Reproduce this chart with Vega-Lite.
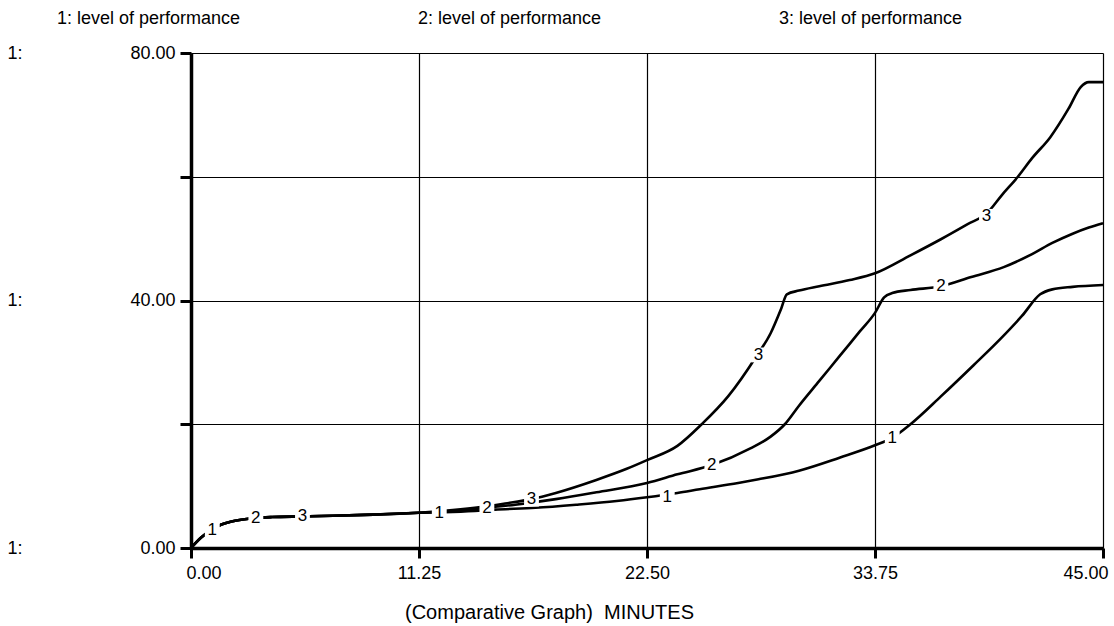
{
  "$schema": "https://vega.github.io/schema/vega-lite/v6.json",
  "width": 912,
  "height": 495,
  "autosize": {"type": "none"},
  "padding": {"left": 191, "top": 53, "right": 11, "bottom": 78},
  "background": "white",
  "config": {
    "view": {"stroke": null},
    "font": "Liberation Sans",
    "axis": {
      "labelFont": "Liberation Sans",
      "labelFontSize": 18,
      "labelColor": "black",
      "domainColor": "black",
      "tickColor": "black",
      "gridColor": "black",
      "gridOpacity": 1,
      "gridWidth": 1.2,
      "titleFont": "Liberation Sans",
      "titleColor": "black",
      "titleFontWeight": "normal",
      "labelFlush": false,
      "labelOverlap": false
    }
  },
  "datasets": {
    "curves": [
      {"series": "1", "t": 0, "value": 0}, {"series": "1", "t": 0.5, "value": 1.7}, {"series": "1", "t": 1, "value": 2.9}, {"series": "1", "t": 1.5, "value": 3.8}, {"series": "1", "t": 2, "value": 4.3}, {"series": "1", "t": 3, "value": 4.8}, {"series": "1", "t": 4, "value": 5.0}, {"series": "1", "t": 5.5, "value": 5.1}, {"series": "1", "t": 7, "value": 5.2}, {"series": "1", "t": 9, "value": 5.4}, {"series": "1", "t": 11.25, "value": 5.7},
      {"series": "1", "t": 12.5, "value": 5.8}, {"series": "1", "t": 14, "value": 6.0}, {"series": "1", "t": 15, "value": 6.2}, {"series": "1", "t": 17, "value": 6.5}, {"series": "1", "t": 19, "value": 7.0}, {"series": "1", "t": 21, "value": 7.6}, {"series": "1", "t": 22.5, "value": 8.2}, {"series": "1", "t": 24, "value": 8.9}, {"series": "1", "t": 25.1, "value": 9.5}, {"series": "1", "t": 27, "value": 10.5}, {"series": "1", "t": 28, "value": 11.1}, {"series": "1", "t": 30, "value": 12.5}, {"series": "1", "t": 32, "value": 14.6}, {"series": "1", "t": 33.75, "value": 16.6}, {"series": "1", "t": 34.6, "value": 17.8}, {"series": "1", "t": 35.5, "value": 20}, {"series": "1", "t": 37, "value": 24.5}, {"series": "1", "t": 38.6, "value": 29.5}, {"series": "1", "t": 40, "value": 34}, {"series": "1", "t": 41, "value": 37.5}, {"series": "1", "t": 41.9, "value": 41.0}, {"series": "1", "t": 42.5, "value": 41.8}, {"series": "1", "t": 43.5, "value": 42.2}, {"series": "1", "t": 45, "value": 42.5},
      {"series": "2", "t": 0, "value": 0}, {"series": "2", "t": 0.5, "value": 1.7}, {"series": "2", "t": 1, "value": 2.9}, {"series": "2", "t": 1.5, "value": 3.8}, {"series": "2", "t": 2, "value": 4.3}, {"series": "2", "t": 3, "value": 4.8}, {"series": "2", "t": 4, "value": 5.0}, {"series": "2", "t": 5.5, "value": 5.1}, {"series": "2", "t": 7, "value": 5.2}, {"series": "2", "t": 9, "value": 5.4}, {"series": "2", "t": 11.25, "value": 5.7},
      {"series": "2", "t": 12.5, "value": 5.9}, {"series": "2", "t": 14, "value": 6.3}, {"series": "2", "t": 14.6, "value": 6.5}, {"series": "2", "t": 16, "value": 7.0}, {"series": "2", "t": 18, "value": 7.9}, {"series": "2", "t": 20, "value": 9.0}, {"series": "2", "t": 22.5, "value": 10.5}, {"series": "2", "t": 24, "value": 11.9}, {"series": "2", "t": 25.7, "value": 13.4}, {"series": "2", "t": 27.6, "value": 16.1}, {"series": "2", "t": 28.6, "value": 18}, {"series": "2", "t": 29.3, "value": 20}, {"series": "2", "t": 30, "value": 23}, {"series": "2", "t": 31, "value": 27}, {"series": "2", "t": 32, "value": 31}, {"series": "2", "t": 33, "value": 35}, {"series": "2", "t": 33.75, "value": 38}, {"series": "2", "t": 34.2, "value": 40.5}, {"series": "2", "t": 34.6, "value": 41.2}, {"series": "2", "t": 35.5, "value": 41.7}, {"series": "2", "t": 37, "value": 42.3}, {"series": "2", "t": 38.5, "value": 43.8}, {"series": "2", "t": 40.1, "value": 45.4}, {"series": "2", "t": 41.5, "value": 47.5}, {"series": "2", "t": 42.5, "value": 49.3}, {"series": "2", "t": 43.5, "value": 50.8}, {"series": "2", "t": 44.3, "value": 51.8}, {"series": "2", "t": 45, "value": 52.5},
      {"series": "3", "t": 0, "value": 0}, {"series": "3", "t": 0.5, "value": 1.7}, {"series": "3", "t": 1, "value": 2.9}, {"series": "3", "t": 1.5, "value": 3.8}, {"series": "3", "t": 2, "value": 4.3}, {"series": "3", "t": 3, "value": 4.8}, {"series": "3", "t": 4, "value": 5.0}, {"series": "3", "t": 5.5, "value": 5.1}, {"series": "3", "t": 7, "value": 5.2}, {"series": "3", "t": 9, "value": 5.4}, {"series": "3", "t": 11.25, "value": 5.7},
      {"series": "3", "t": 12.5, "value": 6.0}, {"series": "3", "t": 14, "value": 6.5}, {"series": "3", "t": 15.5, "value": 7.2}, {"series": "3", "t": 16.8, "value": 7.9}, {"series": "3", "t": 18, "value": 8.9}, {"series": "3", "t": 20, "value": 11}, {"series": "3", "t": 21.5, "value": 12.8}, {"series": "3", "t": 22.5, "value": 14.2}, {"series": "3", "t": 24, "value": 16.5}, {"series": "3", "t": 25.2, "value": 20}, {"series": "3", "t": 26.5, "value": 24.5}, {"series": "3", "t": 27.9, "value": 31}, {"series": "3", "t": 28.6, "value": 34.7}, {"series": "3", "t": 29.1, "value": 38.5}, {"series": "3", "t": 29.4, "value": 41}, {"series": "3", "t": 30, "value": 41.6}, {"series": "3", "t": 31, "value": 42.3}, {"series": "3", "t": 32.5, "value": 43.3}, {"series": "3", "t": 33.75, "value": 44.4}, {"series": "3", "t": 35.5, "value": 47.3}, {"series": "3", "t": 37, "value": 49.9}, {"series": "3", "t": 38.3, "value": 52.3}, {"series": "3", "t": 39.3, "value": 54.2}, {"series": "3", "t": 40, "value": 57}, {"series": "3", "t": 40.8, "value": 60}, {"series": "3", "t": 41.5, "value": 63}, {"series": "3", "t": 42.4, "value": 66.4}, {"series": "3", "t": 43.3, "value": 71}, {"series": "3", "t": 43.9, "value": 74.5}, {"series": "3", "t": 44.3, "value": 75.3}, {"series": "3", "t": 45, "value": 75.3}
    ],
    "labels": [
      {"series": "1", "t": 1.05, "value": 2.9}, {"series": "1", "t": 12.25, "value": 5.6}, {"series": "1", "t": 23.5, "value": 8.3}, {"series": "1", "t": 34.6, "value": 17.8},
      {"series": "2", "t": 3.2, "value": 4.9}, {"series": "2", "t": 14.6, "value": 6.5}, {"series": "2", "t": 25.7, "value": 13.4}, {"series": "2", "t": 37, "value": 42.3},
      {"series": "3", "t": 5.5, "value": 5.1}, {"series": "3", "t": 16.8, "value": 7.9}, {"series": "3", "t": 28.0, "value": 31.2}, {"series": "3", "t": 39.25, "value": 53.6}
    ]
  },
  "layer": [
    {
      "data": {"name": "curves"},
      "mark": {"type": "line", "strokeWidth": 2.6, "interpolate": "monotone"},
      "encoding": {
        "x": {
          "field": "t", "type": "quantitative",
          "scale": {"domain": [0, 45], "nice": false, "zero": false},
          "axis": {
            "values": [0, 11.25, 22.5, 33.75, 45],
            "format": ".2f",
            "grid": true,
            "domainWidth": 3.5,
            "tickWidth": 3,
            "tickSize": 10,
            "labelPadding": 6,
            "labelFlush": true,
            "labelFlushOffset": 5,
            "title": "(Comparative Graph)\u00a0 MINUTES",
            "titleFontSize": 20,
            "titleX": 358,
            "titleY": 64,
            "titleBaseline": "middle",
            "titleAlign": "center",
            "titleAnchor": null
          }
        },
        "y": {
          "field": "value", "type": "quantitative",
          "scale": {"domain": [0, 80], "nice": false},
          "axis": {
            "orient": "left",
            "values": [0, 20, 40, 60, 80],
            "labelExpr": "datum.value % 40 === 0 ? format(datum.value, '.2f') : ''",
            "grid": true,
            "domainWidth": 3.5,
            "tickWidth": 3,
            "tickSize": 11,
            "labelPadding": 5,
            "title": null
          }
        },
        "color": {
          "field": "series", "type": "nominal",
          "scale": {"range": ["black", "black", "black"]},
          "legend": {
            "orient": "none",
            "legendX": -152,
            "legendY": -43,
            "direction": "horizontal",
            "columns": 3,
            "title": null,
            "symbolOpacity": 0,
            "symbolSize": 0,
            "symbolStrokeWidth": 0,
            "labelOffset": 0,
            "labelFont": "Liberation Sans",
            "labelFontSize": 18,
            "labelColor": "black",
            "labelLimit": 400,
            "columnPadding": 159,
            "labelExpr": "datum.label + ': level of performance'"
          }
        }
      }
    },
    {
      "data": {"name": "labels"},
      "mark": {"type": "square", "filled": true, "color": "white", "opacity": 1, "size": 220},
      "encoding": {
        "x": {"field": "t", "type": "quantitative"},
        "y": {"field": "value", "type": "quantitative", "axis": null}
      }
    },
    {
      "data": {"name": "labels"},
      "mark": {"type": "text", "fontSize": 17, "color": "black", "font": "Liberation Sans"},
      "encoding": {
        "x": {"field": "t", "type": "quantitative"},
        "y": {
          "field": "value", "type": "quantitative",
          "axis": {
            "orient": "left",
            "offset": 165,
            "values": [0, 40, 80],
            "labelExpr": "'1:'",
            "domain": false,
            "ticks": false,
            "tickSize": 0,
            "grid": false,
            "title": null,
            "labelPadding": 4
          }
        },
        "text": {"field": "series"}
      }
    }
  ],
  "resolve": {"axis": {"y": "independent"}}
}
